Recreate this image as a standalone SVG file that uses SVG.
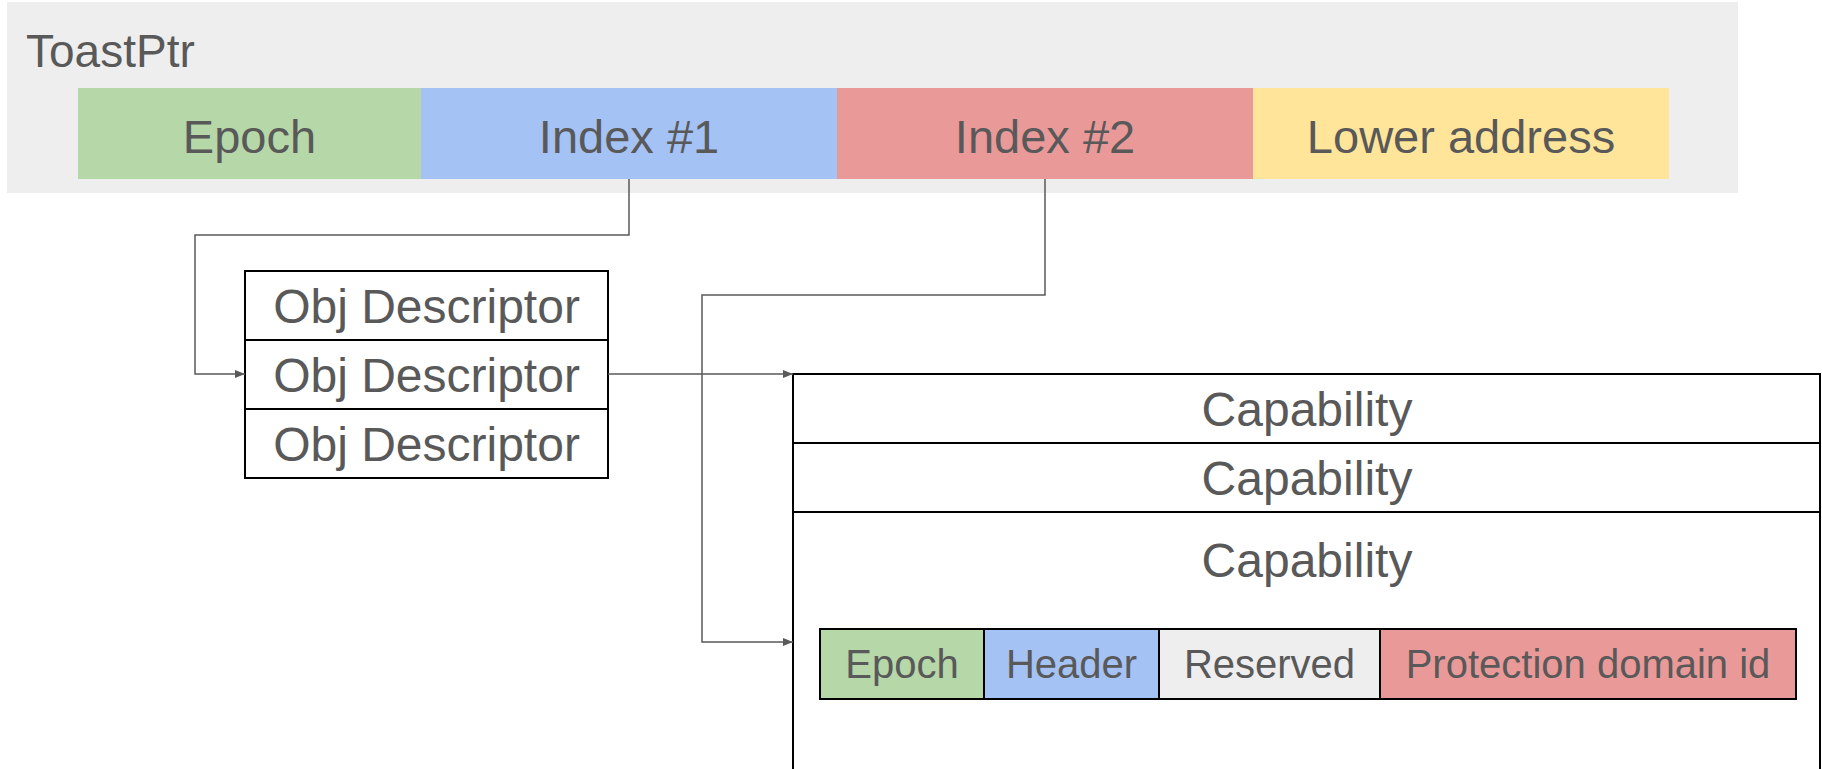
<svg xmlns="http://www.w3.org/2000/svg" width="1822" height="769" viewBox="0 0 1822 769">
  <style>
    text { font-family: "Liberation Sans", Arial, sans-serif; fill: #595959; }
    .big { font-size: 46px; }
    .mid { font-size: 47px; text-anchor: middle; }
    .row { font-size: 48px; text-anchor: middle; }
    .small { font-size: 40px; text-anchor: middle; }
    .box { fill: #ffffff; stroke: #000000; stroke-width: 2; }
    .cell { stroke: #000000; stroke-width: 2; }
    .wire { fill: none; stroke: #595959; stroke-width: 1.5; }
  </style>
  <defs>
    <marker id="arrow" viewBox="0 0 10 10" refX="10" refY="5" markerWidth="10" markerHeight="10" markerUnits="userSpaceOnUse" orient="auto">
      <path d="M0,1 L10,5 L0,9 Z" fill="#595959"/>
    </marker>
  </defs>

  <rect width="1822" height="769" fill="#ffffff"/>

  <!-- pointer layout -->
  <g id="toastptr">
    <rect x="7" y="2" width="1731" height="191" fill="#eeeeee"/>
    <text class="big" x="26" y="67">ToastPtr</text>
    <rect x="78" y="88" width="343" height="91" fill="#b6d7a8"/>
    <rect x="421" y="88" width="416" height="91" fill="#a4c2f4"/>
    <rect x="837" y="88" width="416" height="91" fill="#ea9999"/>
    <rect x="1253" y="88" width="416" height="91" fill="#ffe599"/>
    <text class="mid" x="249.5" y="153">Epoch</text>
    <text class="mid" x="629" y="153">Index #1</text>
    <text class="mid" x="1045" y="153">Index #2</text>
    <text class="mid" x="1461" y="153">Lower address</text>
  </g>

  <!-- descriptor table -->
  <g id="obj-descriptors">
    <rect class="box" x="245" y="271" width="363" height="69"/>
    <rect class="box" x="245" y="340" width="363" height="69"/>
    <rect class="box" x="245" y="409" width="363" height="69"/>
    <text class="row" x="426.5" y="323">Obj Descriptor</text>
    <text class="row" x="426.5" y="392">Obj Descriptor</text>
    <text class="row" x="426.5" y="461">Obj Descriptor</text>
  </g>

  <!-- capability table -->
  <g id="capabilities">
    <rect class="box" x="793" y="374" width="1027" height="69"/>
    <rect class="box" x="793" y="443" width="1027" height="69"/>
    <rect class="box" x="793" y="512" width="1027" height="270"/>
    <text class="row" x="1307" y="426">Capability</text>
    <text class="row" x="1307" y="495">Capability</text>
    <text class="row" x="1307" y="577">Capability</text>
  </g>

  <!-- capability fields -->
  <g id="capability-fields">
    <rect class="cell" x="820" y="629" width="164" height="70" fill="#b6d7a8"/>
    <rect class="cell" x="984" y="629" width="175" height="70" fill="#a4c2f4"/>
    <rect class="cell" x="1159" y="629" width="221" height="70" fill="#eeeeee"/>
    <rect class="cell" x="1380" y="629" width="416" height="70" fill="#ea9999"/>
    <text class="small" x="902" y="678">Epoch</text>
    <text class="small" x="1071.5" y="678">Header</text>
    <text class="small" x="1269.5" y="678">Reserved</text>
    <text class="small" x="1588" y="678">Protection domain id</text>
  </g>

  <!-- connectors -->
  <g id="connectors">
    <path class="wire" d="M629,179 V235 H195 V374 H245" marker-end="url(#arrow)"/>
    <path class="wire" d="M1045,179 V295 H702 V642 H793" marker-end="url(#arrow)"/>
    <path class="wire" d="M608,374 H793" marker-end="url(#arrow)"/>
  </g>
</svg>
